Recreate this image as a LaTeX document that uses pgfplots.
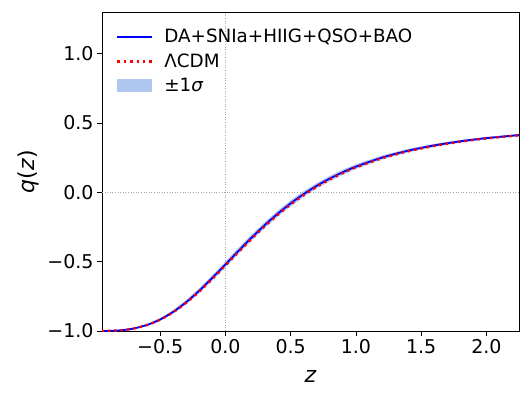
\documentclass[border=0pt]{standalone}
\usepackage{pgfplots}
\pgfplotsset{compat=1.18}
\usepackage{pgfplotstable}
\usepgfplotslibrary{fillbetween}
\usepackage{fontspec}
\setmainfont{DejaVu Sans}
\definecolor{bandc}{RGB}{176,200,240}
\definecolor{mblue}{RGB}{0,0,255}
\definecolor{mred}{RGB}{255,0,0}

\pgfplotstableread{
z     q        lo       hi       r
-0.95 -0.9999  -0.9999  -0.9999  -0.9999
-0.90 -0.9993  -0.9998  -0.9988  -0.9993
-0.85 -0.9976  -0.9986  -0.9966  -0.99765
-0.80 -0.9944  -0.9964  -0.9924  -0.9945
-0.75 -0.9891  -0.9921  -0.9861  -0.9893
-0.70 -0.9812  -0.9852  -0.9772  -0.9816
-0.60 -0.9561  -0.9631  -0.9491  -0.9571
-0.50 -0.9167  -0.9267  -0.9067  -0.91845
-0.40 -0.8616  -0.8746  -0.8486  -0.86445
-0.30 -0.7915  -0.8075  -0.7755  -0.7956
-0.20 -0.7088  -0.7268  -0.6908  -0.71415
-0.10 -0.6168  -0.6368  -0.5968  -0.62335
0.00  -0.5200  -0.5410  -0.4990  -0.5275
0.10  -0.4223  -0.4443  -0.4003  -0.4305
0.20  -0.3273  -0.3493  -0.3053  -0.33585
0.30  -0.2375  -0.2595  -0.2155  -0.2462
0.40  -0.1547  -0.1767  -0.1327  -0.16325
0.50  -0.0795  -0.1015  -0.0575  -0.0878
0.60  -0.0124  -0.0334   0.0086  -0.02025
0.70   0.0471   0.0271   0.0671   0.0397
0.80   0.0994   0.0804   0.1184   0.0925
0.90   0.1452   0.1272   0.1632   0.13885
1.00   0.1852   0.1682   0.2022   0.17935
1.20   0.2504   0.2354   0.2654   0.24555
1.40   0.3002   0.2872   0.3132   0.2961
1.60   0.3382   0.3272   0.3492   0.3348
1.80   0.3676   0.3576   0.3776   0.36475
2.00   0.3906   0.3816   0.3996   0.3882
2.25   0.4126   0.4046   0.4206   0.41065
}\data

\begin{document}
\begin{tikzpicture}
\begin{axis}[
  scale only axis, width=417pt, height=319pt,
  xmin=-0.946, xmax=2.25, ymin=-1, ymax=1.3,
  xtick={-0.5,0,0.5,1,1.5,2},
  xticklabels={−0.5,0.0,0.5,1.0,1.5,2.0},
  ytick={-1,-0.5,0,0.5,1},
  yticklabels={−1.0,−0.5,0.0,0.5,1.0},
  xtick pos=lower, ytick pos=left,
  tick align=outside, major tick length=5pt,
  tick style={black, line width=0.8pt},
  axis line style={black, line width=0.9pt},
  ticklabel style={font=\fontsize{19}{22}\selectfont},
  xlabel={\textit{z}}, ylabel={\textit{q}(\textit{z})},
  label style={font=\fontsize{22}{26}\selectfont},
  xlabel style={at={(axis description cs:0.5,0)}, anchor=base, yshift=-51pt},
  ylabel style={at={(axis description cs:-0.1775,0.5)}, anchor=center},
  legend cell align=left,
  legend style={at={(0,1)}, anchor=north west, xshift=11pt, yshift=-13pt,
    draw=none, fill=none, font=\fontsize{18.3}{22}\selectfont, row sep=5.5pt},
  clip=true,
]
\addplot[gray!70, line width=0.8pt, dash pattern=on 1pt off 1.6pt, forget plot] coordinates {(0,-1) (0,1.3)};
\addplot[gray!70, line width=0.8pt, dash pattern=on 1pt off 1.6pt, forget plot] coordinates {(-0.946,0) (2.25,0)};
\addplot[name path=lo, draw=none, forget plot] table[x=z, y=lo] {\data};
\addplot[name path=hi, draw=none, forget plot] table[x=z, y=hi] {\data};
\addplot[bandc, forget plot] fill between[of=hi and lo];
\addplot[mblue, line width=1.8pt, smooth, forget plot] table[x=z, y=q] {\data};
\addplot[mred, line width=2.4pt, dash pattern=on 2.4pt off 4pt, smooth, forget plot] table[x=z, y=r] {\data};
\addlegendimage{legend image code/.code={\draw[mblue, line width=1.8pt] (0pt,0pt) -- (35pt,0pt); \path[draw=none, fill=none] (0pt,0pt) -- (45pt,0pt);}}
\addlegendentry{DA+SNIa+HIIG+QSO+BAO}
\addlegendimage{legend image code/.code={\draw[mred, line width=2.4pt, dash pattern=on 2.4pt off 4pt] (0pt,0pt) -- (35pt,0pt); \path[draw=none, fill=none] (0pt,0pt) -- (45pt,0pt);}}
\addlegendentry{ΛCDM}
\addlegendimage{legend image code/.code={\fill[bandc, draw=none] (0pt,-6.5pt) rectangle (35pt,6.5pt); \path[draw=none, fill=none] (0pt,0pt) -- (45pt,0pt);}}
\addlegendentry{±1\textit{σ}}
\end{axis}
\useasboundingbox ([shift={(-102pt,-68pt)}]current axis.south west) rectangle ([shift={(12pt,12pt)}]current axis.north east);
\end{tikzpicture}
\end{document}
